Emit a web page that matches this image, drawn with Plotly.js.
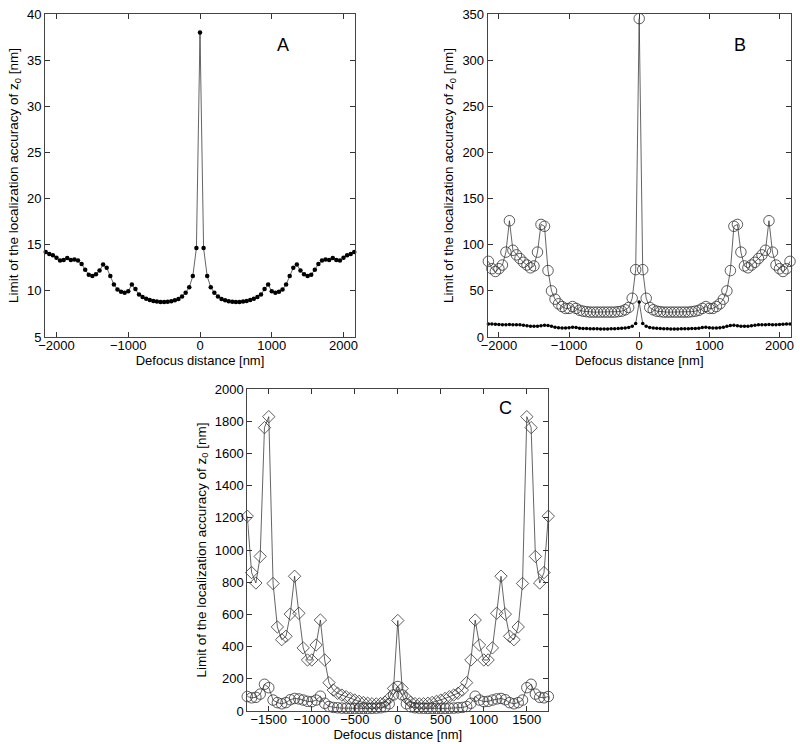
<!DOCTYPE html>
<html>
<head>
<meta charset="utf-8">
<script src="https://cdn.plot.ly/plotly-3.0.1.min.js"></script>
<style>html,body{margin:0;padding:0;background:#fff;}#chart{width:800px;height:744px;}</style>
</head>
<body>
<div id="chart"></div>
<script>
// Defocus positions for panels A and B [nm]
const defocusAB = [-2150,-2100,-2050,-2000,-1950,-1900,-1850,-1800,-1750,-1700,-1650,-1600,-1550,-1500,-1450,-1400,-1350,-1300,-1250,-1200,-1150,-1100,-1050,-1000,-950,-900,-850,-800,-750,-700,-650,-600,-550,-500,-450,-400,-350,-300,-250,-200,-150,-100,-50,0,50,100,150,200,250,300,350,400,450,500,550,600,650,700,750,800,850,900,950,1000,1050,1100,1150,1200,1250,1300,1350,1400,1450,1500,1550,1600,1650,1700,1750,1800,1850,1900,1950,2000,2050,2100,2150];

// Panel A (and filled dots in B): limit of localization accuracy [nm]
const accuracyDots = [14.2,14.0,13.85,13.6,13.3,13.35,13.55,13.35,13.4,13.3,12.9,12.3,11.75,11.6,11.8,12.2,12.85,12.5,11.6,10.7,10.15,9.9,9.8,9.95,10.7,10.2,9.6,9.35,9.15,9.0,8.9,8.85,8.8,8.8,8.82,8.88,8.98,9.12,9.4,9.8,10.4,11.6,14.65,
  38.0,
  14.65,11.6,10.4,9.8,9.4,9.12,8.98,8.88,8.82,8.8,8.8,8.85,8.9,9.0,9.15,9.35,9.6,10.2,10.7,9.95,9.8,9.9,10.15,10.7,11.6,12.5,12.85,12.2,11.8,11.6,11.75,12.3,12.9,13.3,13.4,13.35,13.55,13.35,13.3,13.6,13.85,14.0,14.2];

// Panel B open circles
const accuracyCirclesB = [82,74,71,74,78,92,126,94,89,85,81,78,75,77,92,122,120,72,50,41,36,33,31,31,33,31,29,28,27.5,27,27,27,27,27,27,27,27,27.5,28,29.5,32,42,73,
  345,
  73,42,32,29.5,28,27.5,27,27,27,27,27,27,27,27,27.5,28,29,31,33,31,31,33,36,41,50,72,120,122,92,77,75,78,81,85,89,94,126,92,78,74,71,74,82];

// Defocus positions for panel C [nm]
const defocusC = [-1750,-1700,-1650,-1600,-1550,-1500,-1450,-1400,-1350,-1300,-1250,-1200,-1150,-1100,-1050,-1000,-950,-900,-850,-800,-750,-700,-650,-600,-550,-500,-450,-400,-350,-300,-250,-200,-150,-100,-50,0,50,100,150,200,250,300,350,400,450,500,550,600,650,700,750,800,850,900,950,1000,1050,1100,1150,1200,1250,1300,1350,1400,1450,1500,1550,1600,1650,1700,1750];

// Panel C diamonds
const accuracyDiamondsC = [1210,860,795,960,1760,1828,792,522,443,464,602,837,607,392,317,317,410,565,317,176,130,110,99,89,78,68,60,53,48,45,44,46,55,80,140,
  562,
  140,80,55,46,44,45,48,53,60,68,78,89,99,110,130,176,317,565,410,317,317,392,607,837,602,464,443,522,792,1828,1760,960,795,860,1210];

// Panel C circles
const accuracyCirclesC = [90,82,85,105,166,145,68,52,45,52,70,78,75,68,60,58,68,92,48,28,22,20,18,17,16,16,16,16,16,17,18,20,26,45,100,
  152,
  100,45,26,20,18,17,16,16,16,16,16,17,18,20,22,28,48,92,68,58,60,68,75,78,70,52,45,52,68,145,166,105,85,82,90];

const panelLabels = ['A','B','C'];
const xTitle = 'Defocus distance [nm]';
const yTitle = 'Limit of the localization accuracy of z<sub>0</sub> [nm]';

const FONT = 'Liberation Sans, Arial, Helvetica, sans-serif';
const lineStyle = {color:'#222', width:0.7};

const traces = [
  {x:defocusAB, y:accuracyDots, xaxis:'x', yaxis:'y', mode:'lines+markers', cliponaxis:false,
   line:lineStyle, marker:{symbol:'circle', size:4.5, color:'#000'}},
  {x:defocusAB, y:accuracyCirclesB, xaxis:'x2', yaxis:'y2', mode:'lines+markers', cliponaxis:false,
   line:lineStyle, marker:{symbol:'circle-open', size:10.5, color:'#333', line:{width:0.8, color:'#333'}}},
  {x:defocusAB, y:accuracyDots, xaxis:'x2', yaxis:'y2', mode:'lines+markers', cliponaxis:false,
   line:lineStyle, marker:{symbol:'circle', size:3.5, color:'#000'}},
  {x:defocusC, y:accuracyDiamondsC, xaxis:'x3', yaxis:'y3', mode:'lines+markers', cliponaxis:false,
   line:lineStyle, marker:{symbol:'diamond-open', size:9.5, color:'#333', line:{width:0.8, color:'#333'}}},
  {x:defocusC, y:accuracyCirclesC, xaxis:'x3', yaxis:'y3', mode:'lines+markers', cliponaxis:false,
   line:lineStyle, marker:{symbol:'circle-open', size:10.5, color:'#333', line:{width:0.8, color:'#333'}}}
];

function xax(domain, range, tickvals, anchor){
  return {domain:domain, range:range, anchor:anchor, tickvals:tickvals, ticks:'inside', ticklen:5, tickcolor:'#333',
    mirror:'ticks', showline:true, linecolor:'#444', linewidth:1, showgrid:false, zeroline:false,
    tickfont:{family:FONT, size:13, color:'#000'}, automargin:false, ticklabelstandoff:-4,
    title:{text:xTitle, font:{family:FONT, size:13, color:'#000'}, standoff:1}};
}
function yax(domain, range, dtick, anchor){
  return {domain:domain, range:range, anchor:anchor, dtick:dtick, tick0:0, ticks:'inside', ticklen:5, tickcolor:'#333',
    mirror:'ticks', showline:true, linecolor:'#444', linewidth:1, showgrid:false, zeroline:false,
    tickfont:{family:FONT, size:13, color:'#000'}, automargin:false,
    title:{text:yTitle, font:{family:FONT, size:13.5, color:'#000'}, standoff:5}};
}

const layout = {
  width:800, height:744, showlegend:false,
  paper_bgcolor:'#fff', plot_bgcolor:'#fff',
  margin:{l:0, r:0, t:0, b:0},
  font:{family:FONT, size:13, color:'#000'},
  xaxis: xax([0.05625,0.44375], [-2160,2160], [-2000,-1000,0,1000,2000], 'y'),
  yaxis: yax([0.547,0.9812], [5,40], 5, 'x'),
  xaxis2: xax([0.6096,0.9884], [-2160,2160], [-2000,-1000,0,1000,2000], 'y2'),
  yaxis2: yax([0.547,0.9812], [0,350], 50, 'x2'),
  xaxis3: xax([0.3091,0.6854], [-1750,1750], [-1500,-1000,-500,0,500,1000,1500], 'y3'),
  yaxis3: yax([0.04435,0.47715], [0,2000], 200, 'x3'),
  annotations: [
    {text:panelLabels[0], xref:'paper', yref:'paper', x:0.354, y:0.9556, showarrow:false, font:{family:FONT, size:18, color:'#000'}},
    {text:panelLabels[1], xref:'paper', yref:'paper', x:0.935, y:0.9556, showarrow:false, font:{family:FONT, size:18, color:'#000'}},
    {text:panelLabels[2], xref:'paper', yref:'paper', x:0.63125, y:0.4516, showarrow:false, font:{family:FONT, size:18, color:'#000'}}
  ]
};

Plotly.newPlot('chart', traces, layout, {displayModeBar:false, staticPlot:true});
</script>
</body>
</html>
